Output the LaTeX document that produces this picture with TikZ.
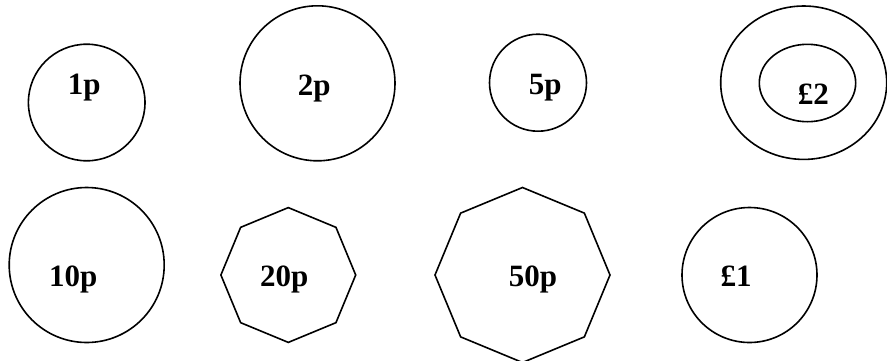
\documentclass[tikz,border=0pt]{standalone}
\usepackage{fontspec}
\setmainfont{Liberation Serif}
\usepackage{tikz}
\usetikzlibrary{shapes.geometric}

\begin{document}
\begin{tikzpicture}[
  x=1pt, y=-1pt,
  coin/.style={draw, line width=1.6pt, circle, inner sep=0pt},
  ring/.style={draw, line width=1.6pt, ellipse, inner sep=0pt},
  octcoin/.style={draw, line width=1.6pt, regular polygon, regular polygon sides=8, shape border rotate=22.5, inner sep=0pt},
  val/.style={anchor=base, inner sep=0pt, font=\fontsize{31}{31}\selectfont\bfseries}
]
  \useasboundingbox (0,0) rectangle (887,360);
  % top row
  \node[coin, minimum size=116.6pt] (c1p) at (86.7,102.5) {};
  \node[coin, minimum size=155pt] (c2p) at (317.5,83.3) {};
  \node[coin, minimum size=97pt] (c5p) at (538,82.7) {};
  \node[ring, minimum width=166pt, minimum height=153.4pt] (c2lo) at (803.7,82.7) {};
  \node[ring, minimum width=96.4pt, minimum height=77.4pt] (c2li) at (807.5,83) {};
  \node[val] (t1p) at (84.2,94.3) {1p};
  \node[val] (t2p) at (314.3,95) {2p};
  \node[val] (t5p) at (545.3,94.3) {5p};
  \node[val] (t2l) at (813.3,104) {£2};
  % bottom row
  \node[coin, minimum size=155pt] (c10p) at (86.7,265) {};
  \node[octcoin, minimum size=134.8pt] (c20p) at (288.3,275) {};
  \node[octcoin, minimum size=175pt] (c50p) at (522.5,275) {};
  \node[coin, minimum size=135pt] (c1l) at (749.5,275) {};
  \node[val] (t10p) at (73.3,286.7) {10p};
  \node[val] (t20p) at (284.2,286.7) {20p};
  \node[val] (t50p) at (533,286.7) {50p};
  \node[val] (t1l) at (736,286) {£1};
\end{tikzpicture}
\end{document}
